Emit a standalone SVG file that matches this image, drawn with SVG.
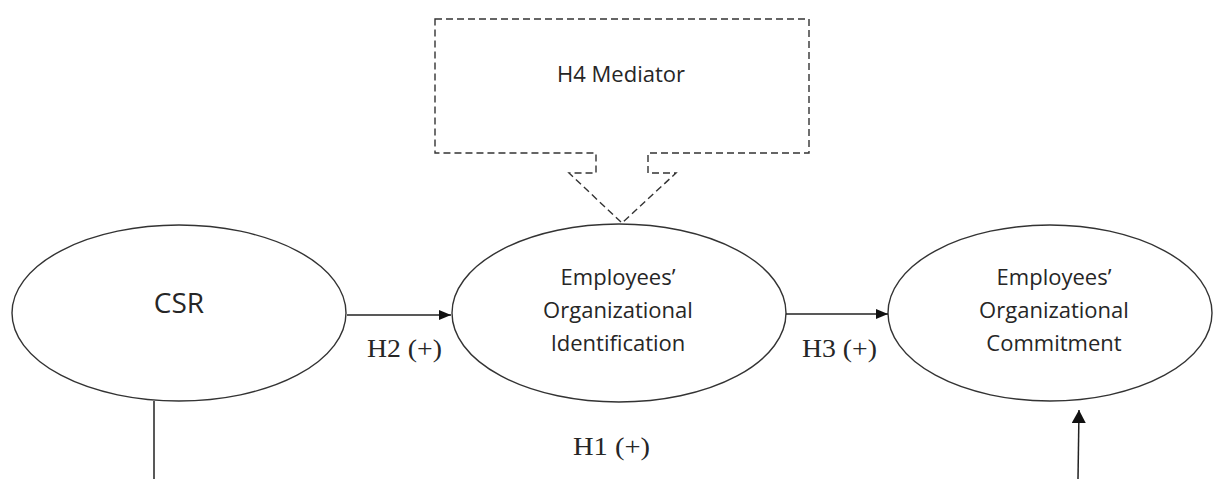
<svg xmlns="http://www.w3.org/2000/svg" width="1213" height="479" viewBox="0 0 1213 479">
<style>
.node{fill:#fff;stroke:#333;stroke-width:1.4}
.lbl{font-family:"Open Sans","Liberation Sans",sans-serif;fill:#262626;text-anchor:middle}
.hyp{font-family:"Liberation Serif","DejaVu Serif",serif;font-size:26px;fill:#262626}
.conn{stroke:#222;stroke-width:1.5;fill:none}
</style>
<defs>
<marker id="ah" markerWidth="12" markerHeight="10" refX="12" refY="5" orient="auto" markerUnits="userSpaceOnUse">
<path d="M0,0 L12,5 L0,10 Z" fill="#111"/>
</marker>
<marker id="ah2" markerWidth="13" markerHeight="14" refX="13" refY="7" orient="auto" markerUnits="userSpaceOnUse">
<path d="M0,0 L13,7 L0,14 Z" fill="#111"/>
</marker>
</defs>
<rect width="1213" height="479" fill="#fff"/>
<g id="mediator">
<path d="M435,19 H809 V153 H648 V173 H676 L622,223 L569,173 H596 V153 H435 Z" fill="none" stroke="#333" stroke-width="1.4" stroke-dasharray="7,4"/>
<text class="lbl" x="621" y="82" font-size="22">H4 Mediator</text>
</g>
<g id="csr">
<ellipse class="node" cx="179" cy="313" rx="167" ry="88"/>
<text class="lbl" x="179" y="313" font-size="28">CSR</text>
</g>
<g id="identification">
<ellipse class="node" cx="619" cy="313" rx="167" ry="89"/>
<text class="lbl" x="618" y="285" font-size="22">Employees’</text>
<text class="lbl" x="618" y="318" font-size="22">Organizational</text>
<text class="lbl" x="618" y="351" font-size="22">Identification</text>
</g>
<g id="commitment">
<ellipse class="node" cx="1050" cy="313" rx="162" ry="88"/>
<text class="lbl" x="1054" y="285" font-size="22">Employees’</text>
<text class="lbl" x="1054" y="318" font-size="22">Organizational</text>
<text class="lbl" x="1054" y="351" font-size="22">Commitment</text>
</g>
<g id="connectors">
<line class="conn" x1="347" y1="315" x2="451" y2="315" marker-end="url(#ah)"/>
<line class="conn" x1="786" y1="314" x2="888" y2="314" marker-end="url(#ah)"/>
<line class="conn" x1="154" y1="401" x2="154" y2="479"/>
<line class="conn" x1="1078" y1="479" x2="1079" y2="410" marker-end="url(#ah2)"/>
<text class="hyp" x="367" y="357" textLength="75" lengthAdjust="spacingAndGlyphs">H2 (+)</text>
<text class="hyp" x="802" y="357" textLength="75" lengthAdjust="spacingAndGlyphs">H3 (+)</text>
<text class="hyp" x="573" y="455" textLength="77" lengthAdjust="spacingAndGlyphs">H1 (+)</text>
</g>
</svg>
